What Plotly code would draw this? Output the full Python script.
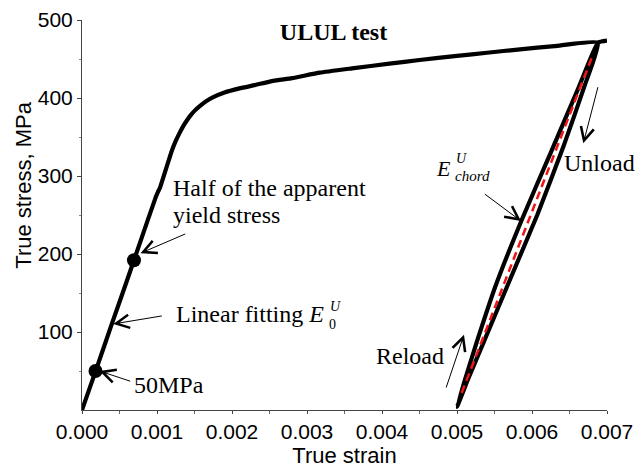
import plotly.graph_objects as go

# Monotonic loading branch up to the unloading point
load_strain = [0.0, 0.0002, 0.0004, 0.0006, 0.0008, 0.00098, 0.00101, 0.00104, 0.00112,
               0.00120, 0.00125, 0.00130, 0.00135, 0.00140, 0.00145, 0.00150, 0.00157,
               0.00165, 0.00175, 0.00190, 0.00210, 0.00230, 0.00255, 0.00280, 0.00317,
               0.00360, 0.00410, 0.00450, 0.00500, 0.00540, 0.00584, 0.00630, 0.00688]
load_stress = [0, 55, 111, 166, 222, 272, 279, 285, 309,
               333, 345, 355, 364, 371.5, 378, 383.5, 389.5,
               395.5, 401, 407, 412.3, 416.5, 422, 425.5, 432.5,
               438, 444, 448.7, 454, 458, 462.4, 466.5, 471]

# Unloading branch (apex down to zero stress)
unload_strain = [0.00688, 0.00671, 0.00642, 0.00607, 0.00571, 0.00536, 0.00515, 0.00500]
unload_stress = [471, 418, 338, 250, 168, 88, 40, 4]

# Reloading branch (zero stress back up to the apex)
reload_strain = [0.00500, 0.00511, 0.00528, 0.00551, 0.00586, 0.00625, 0.00662, 0.00688]
reload_stress = [4, 40, 92, 158, 243, 330, 413, 471]

# Continued loading after the reload
final_strain = [0.00688, 0.00700]
final_stress = [471, 473.5]

# Chord modulus line
chord_strain = [0.005062, 0.006818]
chord_stress = [21.8, 457]

# Highlighted points: 50 MPa and half of the apparent yield stress
pt_strain = [0.00018, 0.000693]
pt_stress = [50, 192]

x_ticks = [0.000, 0.001, 0.002, 0.003, 0.004, 0.005, 0.006, 0.007]
y_ticks = [100, 200, 300, 400, 500]
y_minor = [50, 150, 250, 350, 450]

SANS = "Liberation Sans, Arial, sans-serif"
SERIF = "Liberation Serif, Times New Roman, serif"

fig = go.Figure()

curve_x = load_strain + unload_strain[1:] + reload_strain[1:] + final_strain[1:]
curve_y = load_stress + unload_stress[1:] + reload_stress[1:] + final_stress[1:]
fig.add_trace(go.Scatter(x=curve_x, y=curve_y, mode="lines",
                         line=dict(color="black", width=4.2, shape="spline", smoothing=0.4),
                         cliponaxis=False, showlegend=False))
fig.add_trace(go.Scatter(x=chord_strain, y=chord_stress, mode="lines",
                         line=dict(color="#f01414", width=2.5, dash="8px,5px"),
                         showlegend=False))
fig.add_trace(go.Scatter(x=pt_strain, y=pt_stress, mode="markers",
                         marker=dict(color="black", size=14),
                         cliponaxis=False, showlegend=False))

annotations = []


def label(x, y, text, size=24, xanchor="left"):
    annotations.append(dict(x=x, y=y, xref="x", yref="y", text=text, showarrow=False,
                            xanchor=xanchor, yanchor="middle", borderpad=0,
                            font=dict(family=SERIF, size=size, color="black")))


def arrow(x_tip, y_tip, x_tail, y_tail):
    annotations.append(dict(x=x_tip, y=y_tip, ax=x_tail, ay=y_tail,
                            xref="x", yref="y", axref="x", ayref="y",
                            text="", showarrow=True, arrowhead=5, arrowsize=2.6,
                            arrowwidth=1.0, arrowcolor="black",
                            standoff=0, startstandoff=0))


label(0.00120, 285, "Half of the apparent")
label(0.00120, 250.4, "yield stress")
arrow(0.00078, 201, 0.001396, 226.5)

label(0.00124, 123, "Linear fitting <i>E</i>")
label(0.003287, 132.5, "<i>U</i>", size=14)
label(0.00328, 110, "0", size=14)
arrow(0.000417, 110.3, 0.001084, 120.9)

label(0.000676, 31.7, "50MPa")
arrow(0.000233, 50, 0.000663, 36.3)

label(0.00471, 309.9, "<i>E</i>", size=22)
label(0.004975, 323, "<i>U</i>", size=14)
label(0.004955, 300, "<i>chord</i>", size=15)
arrow(0.005853, 242.3, 0.005351, 278.2)

label(0.006413, 317.3, "Unload")
arrow(0.006684, 341.9, 0.006884, 415.8)

label(0.003907, 69.6, "Reload")
arrow(0.005093, 96.5, 0.004849, 26.9)

# Y-axis title, set a little above the middle of the axis
annotations.append(dict(x=-0.111, y=0.577, xref="paper", yref="paper",
                        text="True stress, MPa", textangle=-90, showarrow=False,
                        xanchor="center", yanchor="middle",
                        font=dict(family=SANS, size=22, color="black")))

fig.update_layout(
    width=638, height=468,
    margin=dict(l=82, r=31, t=20, b=58),
    plot_bgcolor="white", paper_bgcolor="white",
    title=dict(text="<b>ULUL test</b>", x=0.479, xref="paper", xanchor="center",
               y=1 - 31.7 / 468, yref="container", yanchor="middle",
               font=dict(family=SERIF, size=24, color="black")),
    annotations=annotations,
    xaxis=dict(range=[0, 0.007], tickvals=x_ticks, tickformat=".3f", automargin=False,
               showline=True, linecolor="#444", linewidth=1,
               ticks="outside", ticklen=3, tickcolor="#444",
               minor=dict(dtick=0.0005, tick0=0, ticks="outside", ticklen=3, tickcolor="#666"),
               showgrid=False, zeroline=False,
               tickfont=dict(family=SANS, size=21, color="black"),
               title=dict(text="True strain", standoff=4,
                          font=dict(family=SANS, size=22, color="black"))),
    yaxis=dict(range=[0, 500], tickvals=y_ticks, automargin=False,
               showline=True, linecolor="#444", linewidth=1,
               ticks="outside", ticklen=4, tickcolor="#444",
               minor=dict(tickvals=y_minor, ticks="outside", ticklen=2, tickcolor="#888"),
               showgrid=False, zeroline=False,
               tickfont=dict(family=SANS, size=21, color="black")),
)

fig.write_html("out.html")
